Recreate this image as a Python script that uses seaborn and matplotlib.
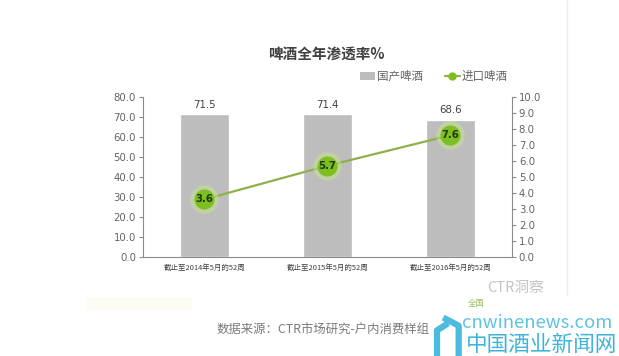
import matplotlib
matplotlib.use("Agg")
import matplotlib.pyplot as plt
import seaborn as sns
import numpy as np
import pandas as pd
from matplotlib.patches import Patch, Rectangle
from matplotlib.lines import Line2D

# data
periods = ["截止至2014年5月的52周", "截止至2015年5月的52周", "截止至2016年5月的52周"]
domestic = [71.5, 71.4, 68.6]
imported = [3.6, 5.7, 7.6]
left_ticks = np.arange(0, 90, 10)
right_ticks = np.arange(0, 11, 1)

sns.set_style("white")
plt.rcParams['font.family'] = ['Noto Sans CJK SC', 'DejaVu Sans']

df = pd.DataFrame({"period": periods, "domestic": domestic, "imported": imported})

bar_c = "#bdbdbd"
line_c = "#8fb04a"
dot_c = "#7dbf22"
axis_c = "#8a8a8a"
txt_c = "#636363"

fig = plt.figure(figsize=(6.19, 3.56), dpi=100)
ax = fig.add_axes([0.231, 0.278, 0.596, 0.45])

sns.barplot(data=df, x="period", y="domestic", color=bar_c, width=0.4,
            saturation=1, ax=ax)
ax.set_ylim(0, 80)
ax.set_xlim(-0.5, 2.5)
ax.set_yticks(left_ticks)
ax.set_yticklabels([f"{v:.1f}" for v in left_ticks], fontsize=7.3, color=txt_c,
                   family=['DejaVu Sans'])
ax.set_xlabel("")
ax.set_ylabel("")
ax.set_xticks(range(len(periods)))
ax.set_xticklabels(periods, fontsize=5.4, color="#404040")
ax.tick_params(axis="x", which="major", length=0, pad=5)
ax.set_xticks([0.5, 1.5], minor=True)
ax.tick_params(axis="x", which="minor", length=4, color=axis_c, direction="out")
ax.tick_params(axis="y", length=3, color=axis_c, direction="out", left=True, pad=2)
for lab in ax.bar_label(ax.containers[0], fmt="%.1f", padding=3):
    lab.set_fontsize(7.3)
    lab.set_color("#404040")
    lab.set_family(['DejaVu Sans'])

for s in ["top", "right"]:
    ax.spines[s].set_visible(False)
for s in ["left", "bottom"]:
    ax.spines[s].set_color(axis_c)
    ax.spines[s].set_linewidth(0.8)

ax2 = ax.twinx()
pos = np.arange(len(imported))
ax2.plot(pos, imported, color=line_c, lw=1.6, zorder=2)
ax2.scatter(pos, imported, s=420, color="#c6e58a", alpha=0.5, lw=0, zorder=3)
ax2.scatter(pos, imported, s=210, color=dot_c, lw=0, zorder=4)
for x, v in zip(pos, imported):
    ax2.text(x, v, f"{v:.1f}", ha="center", va="center", fontsize=7.3,
             color="#1f3a05", fontweight="bold", family=['DejaVu Sans'], zorder=5)
ax2.set_ylim(0, 10)
ax2.set_yticks(right_ticks)
ax2.set_yticklabels([f"{v:.1f}" for v in right_ticks], fontsize=7.3, color=txt_c,
                    family=['DejaVu Sans'])
ax2.tick_params(axis="y", length=3, color=axis_c, direction="out", right=True, pad=2)
for s in ["top", "left", "bottom"]:
    ax2.spines[s].set_visible(False)
ax2.spines["right"].set_color(axis_c)
ax2.spines["right"].set_linewidth(0.8)

fig.text(0.527, 0.85, "啤酒全年渗透率%", ha="center", va="center",
         fontsize=10.5, fontweight="bold", color="#404040")

handles = [Patch(facecolor=bar_c, edgecolor="none"),
           Line2D([], [], color=line_c, lw=1.6, marker="o", markersize=5,
                  markerfacecolor=dot_c, markeredgecolor=dot_c)]
fig.legend(handles, ["国产啤酒", "进口啤酒"], loc="center", bbox_to_anchor=(0.701, 0.784),
           ncol=2, frameon=False, fontsize=8.3, handlelength=1.3, handletextpad=0.2,
           columnspacing=1.85, labelcolor=txt_c)

# frame edge of the screenshot and faint band at bottom left
fig.add_artist(Line2D([0.916, 0.916], [0.17, 1.0], color="#ececec", lw=1))
fig.add_artist(Rectangle((0.14, 0.13), 0.17, 0.035, transform=fig.transFigure,
                         facecolor="#fdfcf3", edgecolor="none"))

# watermarks and source line
fig.text(0.787, 0.19, "CTR洞察", ha="left", va="center", fontsize=10.5,
         color="#c4c4c4")
fig.text(0.755, 0.148, "全国", ha="left", va="center", fontsize=6, color="#9bbf60")
fig.text(0.522, 0.073, "数据来源：CTR市场研究-户内消费样组", ha="center", va="center",
         fontsize=8.9, color="#7a7a7a")
fig.text(0.746, 0.093, "cnwinenews.com", ha="left", va="center", fontsize=13.3,
         color="#5ec3e0", fontweight="light")
fig.text(0.752, 0.03, "中国酒业新闻网", ha="left", va="center", fontsize=15.6,
         color="#3fb3d8")
fig.add_artist(Line2D([0.706, 0.706, 0.724], [0.0, 0.072, 0.092],
                      color="#4cbbe0", lw=4.5, solid_capstyle="butt"))
fig.add_artist(Line2D([0.716, 0.741, 0.741], [0.108, 0.085, 0.0],
                      color="#4cbbe0", lw=4.5, solid_capstyle="butt"))

fig.savefig("out.png", dpi=100)
